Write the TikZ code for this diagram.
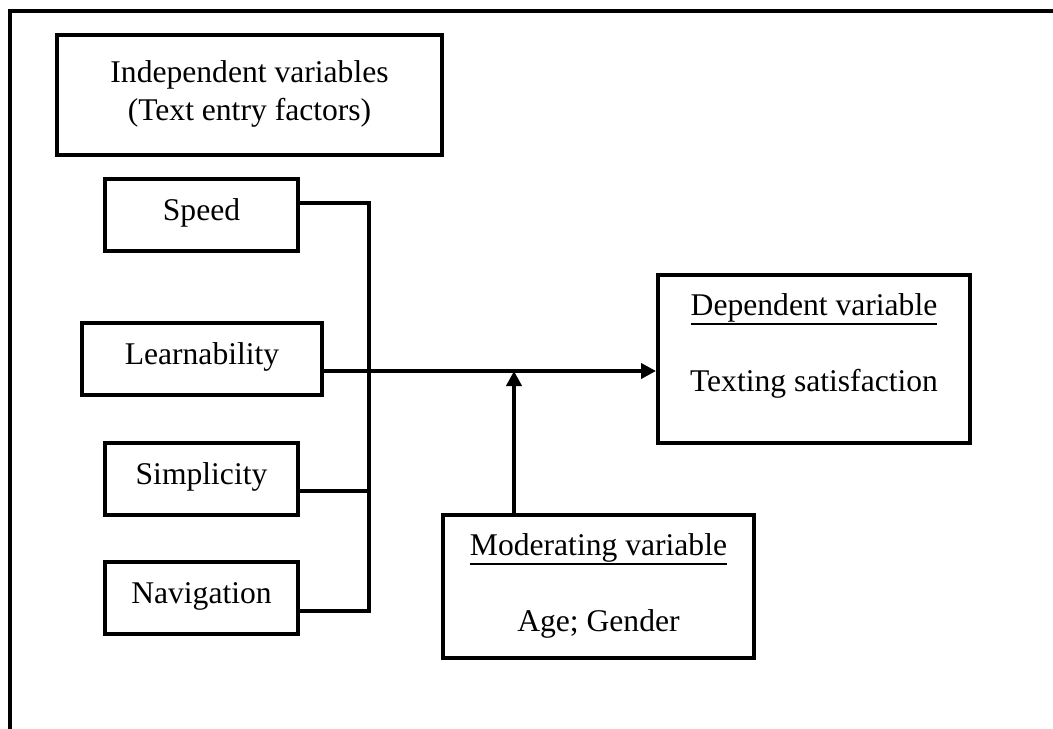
\documentclass[tikz,border=0pt]{standalone}
\usepackage{fontspec}
\setmainfont{Liberation Serif}
\usetikzlibrary{arrows.meta}

% underlined heading with a firmer rule
\newcommand\headline[1]{\setbox0\hbox{#1}\leavevmode\rlap{\rule[-5pt]{\wd0}{0.8pt}}\box0}

\tikzset{
  varbox/.style={draw, line width=2pt, inner sep=0pt, font=\fontsize{15.8}{19}\selectfont},
  factor/.style={varbox, minimum width=96.5pt, text height=20.5pt, text depth=15.5pt},
  bigbox/.style={varbox, minimum width=156pt, text height=20pt, text depth=64pt},
  link/.style={line width=2pt},
  feed/.style={link, -{Triangle[length=7.5pt,width=7.5pt]}}
}

\begin{document}
\begin{tikzpicture}[x=0.5pt,y=-0.5pt]
        \useasboundingbox (0,0) rectangle (1053,728);
        \clip (0,0) rectangle (1053,728);
        \draw[link] (10,740) -- (10,11) -- (1060,11);

        \node[varbox, minimum width=192.5pt, text height=23.5pt, text depth=36.5pt] (indep) at (249.5,95)
            {\begin{tabular}[t]{@{}c@{}}Independent variables\\(Text entry factors)\end{tabular}};
        \node[factor] (speed) at (201.5,215) {Speed};
        \node[factor, minimum width=120pt] (learn) at (202,359) {Learnability};
        \node[factor] (simp) at (201.5,479) {Simplicity};
        \node[factor] (navi) at (201.5,598) {Navigation};
        \node[bigbox] (dep) at (814,359)
            {\begin{tabular}[t]{@{}c@{}}\headline{Dependent variable}\\ \\Texting satisfaction\end{tabular}};
        \node[bigbox, minimum width=155.5pt, text height=20pt, text depth=51.5pt] (mod) at (598.5,586.5)
            {\begin{tabular}[t]{@{}c@{}}\headline{Moderating variable}\\ \\Age; Gender\end{tabular}};

        \coordinate (jtop) at (369,203);
        \coordinate (jsimp) at (369,491);
        \coordinate (jbot) at (369,611);
        \coordinate (meet) at (514,371);
        \draw[link] ([yshift=6pt]speed.east) -- (jtop) -- (jbot) -- (navi.east |- jbot);
        \draw[link] ([yshift=-6pt]simp.east) -- (jsimp);
        \draw[feed] ([yshift=-6pt]learn.east) -- ([yshift=-6pt]dep.west);
        \draw[feed] (mod.north -| meet) -- (meet);
    \end{tikzpicture}
\end{document}
